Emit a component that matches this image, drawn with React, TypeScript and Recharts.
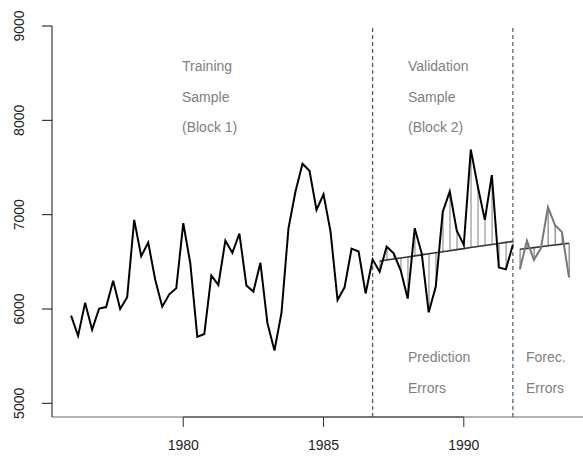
import React from "react";
import {
  ComposedChart,
  Line,
  Bar,
  Cell,
  XAxis,
  YAxis,
  ReferenceLine,
} from "recharts";

// quarterly series, first quarter of 1976 onwards
const startYear = 1976;

// observed values: training (1976-1986) and validation (1987-1991)
const observed = [
  5930, 5715, 6065, 5780, 6005, 6020, 6300, 6000, 6125, 6945, 6560, 6705,
  6310, 6025, 6155, 6220, 6910, 6485, 5705, 5735, 6355, 6255, 6725, 6595,
  6800, 6250, 6185, 6490, 5850, 5560, 5955, 6855, 7245, 7540, 7465, 7050,
  7215, 6820, 6095, 6230, 6640, 6610, 6165, 6525,
  6395, 6660, 6590, 6410, 6110, 6855, 6590, 5965, 6235, 7030, 7245, 6830,
  6680, 7690, 7300, 6945, 7420, 6440, 6420, 6680,
];
const trainingCount = 44;

// observed values in the forecast block (1992-1993)
const forecastObserved = [6420, 6725, 6520, 6645, 7080, 6890, 6815, 6335];

// fitted trend over the validation block
const validationFit = [
  6508, 6519, 6530, 6541, 6552, 6563, 6574, 6585, 6596, 6607, 6618, 6629,
  6640, 6651, 6662, 6673, 6684, 6695, 6706, 6717,
];
// fitted trend over the forecast block
const forecastFit = [6633, 6642, 6651, 6660, 6670, 6679, 6688, 6697];

const xTicks = [1980, 1985, 1990];
const yTicks = [5000, 6000, 7000, 8000, 9000];
const blockEdges = [1986.75, 1991.75];

const labels = [
  { lines: ["Training", "Sample", "(Block 1)"], x: 182, y: 71 },
  { lines: ["Validation", "Sample", "(Block 2)"], x: 408, y: 71 },
  { lines: ["Prediction", "Errors"], x: 408, y: 362 },
  { lines: ["Forec.", "Errors"], x: 526, y: 362 },
];

const total = observed.length + forecastObserved.length;
const data = Array.from({ length: total }, (_, i) => {
  const row: any = { t: startYear + i / 4, errColor: "none" };
  if (i < observed.length) row.obs = observed[i];
  const vi = i - trainingCount;
  if (vi >= 0 && vi < validationFit.length) {
    row.vfit = validationFit[vi];
    row.err = [Math.min(observed[i], validationFit[vi]), Math.max(observed[i], validationFit[vi])];
    row.errColor = "#aaa";
  }
  const fi = i - observed.length;
  if (fi >= 0) {
    row.fobs = forecastObserved[fi];
    row.ffit = forecastFit[fi];
    row.err = [Math.min(forecastObserved[fi], forecastFit[fi]), Math.max(forecastObserved[fi], forecastFit[fi])];
    row.errColor = "#999";
  }
  return row;
});

const font = "'Liberation Sans', Arial, Helvetica, sans-serif";
const yMin = 4855;

const YTick = (props: any) => {
  const { x, y, payload } = props;
  return (
    <text
      x={x}
      y={y}
      transform={`rotate(-90 ${x} ${y})`}
      textAnchor="middle"
      fontSize={14}
      fontFamily={font}
      fill="#222"
    >
      {payload.value}
    </text>
  );
};

export default function App() {
  return (
    <div style={{ position: "absolute", left: 0, top: 0, width: 583, height: 458, background: "#fff" }}>
      <ComposedChart
        width={583}
        height={458}
        data={data}
        margin={{ top: 26, right: 0, bottom: 0, left: 0 }}
      >
        <XAxis
          dataKey="t"
          type="number"
          domain={[1975.32, 1994.25]}
          ticks={xTicks}
          allowDataOverflow
          height={41}
          tickSize={10}
          tickMargin={13}
          stroke="#666"
          tick={{ fill: "#222", fontSize: 14, fontFamily: font }}
          tickLine={{ stroke: "#333" }}
        />
        <YAxis
          type="number"
          domain={[yMin, 9000]}
          ticks={yTicks}
          allowDataOverflow
          width={52}
          tickSize={10}
          tickMargin={18}
          stroke="#111"
          tick={<YTick />}
        />
        <ReferenceLine
          segment={[{ x: 1980, y: yMin }, { x: 1990, y: yMin }]}
          stroke="#111"
          ifOverflow="visible"
        />
        {blockEdges.map((x) => (
          <ReferenceLine key={x} x={x} stroke="#555" strokeDasharray="4 3" strokeWidth={1.2} />
        ))}
        <Bar dataKey="err" barSize={1.5} isAnimationActive={false}>
          {data.map((d, i) => (
            <Cell key={i} fill={d.errColor} />
          ))}
        </Bar>
        <Line dataKey="vfit" stroke="#333" strokeWidth={1.6} dot={false} isAnimationActive={false} />
        <Line dataKey="ffit" stroke="#333" strokeWidth={1.6} dot={false} isAnimationActive={false} />
        <Line dataKey="obs" stroke="#000" strokeWidth={2} dot={false} isAnimationActive={false} />
        <Line dataKey="fobs" stroke="#777" strokeWidth={2} dot={false} isAnimationActive={false} />
      </ComposedChart>
      <svg
        width={583}
        height={458}
        style={{ position: "absolute", left: 0, top: 0, pointerEvents: "none" }}
      >
        {labels.map((l) =>
          l.lines.map((s, k) => (
            <text
              key={l.x + s + k}
              x={l.x}
              y={l.y + k * 30.5}
              fontSize={14}
              fontFamily={font}
              fill="#808080"
            >
              {s}
            </text>
          ))
        )}
      </svg>
    </div>
  );
}
